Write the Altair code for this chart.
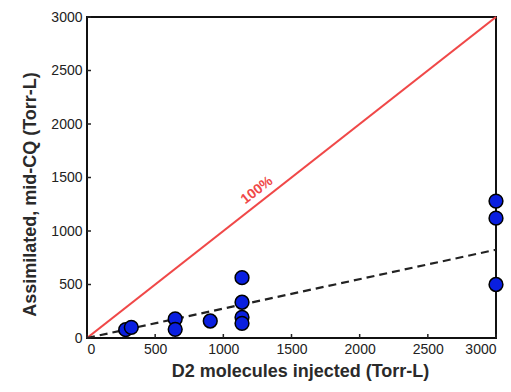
import altair as alt
import pandas as pd

# data
inj = [284, 325, 647, 647, 904, 1137, 1137, 1137, 1137, 3000, 3000, 3000]
assim = [78, 100, 178, 81, 159, 564, 334, 193, 137, 1280, 1120, 500]
ref_x = [0, 3000]
ref_y = [0, 3000]
fit_x = [0, 3000]
fit_y = [0, 825]
ticks = [0, 500, 1000, 1500, 2000, 2500, 3000]
label_x = [1247]
label_y = [1380]
label_txt = ["100%"]

W, H = 409, 321
xs = alt.Scale(domain=[0, 3000], nice=False, zero=False)
ys = alt.Scale(domain=[0, 3000], nice=False, zero=False)

pts = pd.DataFrame({"x": inj, "y": assim})
ref = pd.DataFrame({"x": ref_x, "y": ref_y})
fit = pd.DataFrame({"x": fit_x, "y": fit_y})
tk = pd.DataFrame({"t": ticks})
lab = pd.DataFrame({"x": label_x, "y": label_y, "t": label_txt})

common = dict(grid=False, ticks=False, domain=False, format="d",
              labelFont="Liberation Sans", labelFontSize=14, labelColor="#222222",
              titleFont="Liberation Sans", titleFontSize=18, titleFontWeight="bold",
              titleColor="#2a2a2a")
xaxis = alt.Axis(values=ticks, title="D2 molecules injected (Torr-L)", labelPadding=4,
                 titlePadding=6, titleX=213, **common)
yaxis = alt.Axis(values=ticks, title="Assimilated, mid-CQ (Torr-L)", labelPadding=5,
                 titlePadding=11, titleY=177, **common)

ref_line = alt.Chart(ref).mark_line(color="#f04848", strokeWidth=2.2).encode(
    x=alt.X("x:Q", scale=xs, axis=xaxis),
    y=alt.Y("y:Q", scale=ys, axis=yaxis),
)
fit_line = alt.Chart(fit).mark_line(color="#222222", strokeWidth=2.2, strokeDash=[8, 5]).encode(
    x=alt.X("x:Q", scale=xs), y=alt.Y("y:Q", scale=ys)
)
points = alt.Chart(pts).mark_circle(size=190, color="#0a1fe0", stroke="#000000",
                                    strokeWidth=1.5, opacity=1).encode(
    x=alt.X("x:Q", scale=xs), y=alt.Y("y:Q", scale=ys)
)
xt = alt.Chart(tk).mark_rule(color="#222222", strokeWidth=1.5).encode(
    x=alt.X("t:Q", scale=xs), y=alt.value(H), y2=alt.value(H - 4)
)
yt = alt.Chart(tk).mark_rule(color="#222222", strokeWidth=1.5).encode(
    y=alt.Y("t:Q", scale=ys), x=alt.value(0), x2=alt.value(4)
)
text = alt.Chart(lab).mark_text(color="#f04848", fontSize=14, fontWeight="bold",
                                angle=322, font="Liberation Sans").encode(
    x=alt.X("x:Q", scale=xs), y=alt.Y("y:Q", scale=ys), text="t:N"
)

chart = alt.layer(ref_line, fit_line, xt, yt, points, text).properties(
    width=W, height=H,
    padding={"left": 87, "top": 17, "right": 15, "bottom": 54},
    autosize="none",
    background="white",
).configure_view(stroke="#111111", strokeWidth=2)

chart.save("out.html", embed_options={"renderer": "svg", "actions": False})
